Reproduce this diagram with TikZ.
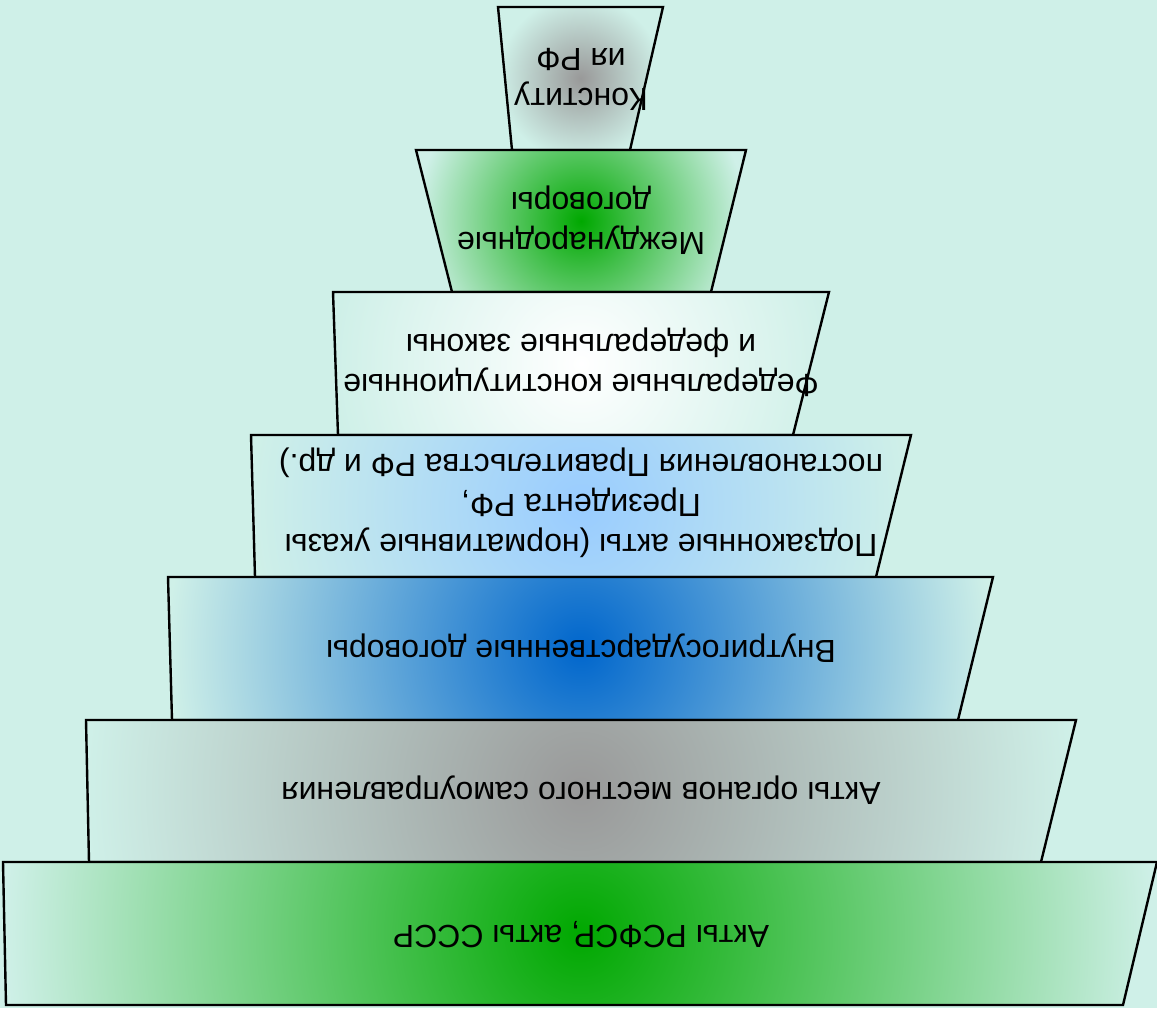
\documentclass[tikz,border=0pt]{standalone}
\usepackage{fontspec}
\setmainfont{Liberation Sans}
\usepackage{tikz}
\usetikzlibrary{positioning}
\definecolor{bgmint}{HTML}{CFF0E8}
\definecolor{midgray}{HTML}{999999}
\definecolor{leafgreen}{HTML}{00A800}
\definecolor{skyblue}{HTML}{99CCFF}
\definecolor{deepblue}{HTML}{0066CC}

\begin{document}
\begin{tikzpicture}[x=0.5pt, y=-0.5pt, line width=1.2pt]
\fill[bgmint] (0,0) rectangle (1157,1008);
\useasboundingbox (0,0) rectangle (1157,1008);
% levels: top left / top right / bottom left / bottom right / top y / bottom y / fill
\foreach \tl/\tr/\bl/\br/\yt/\yb/\inn in {
    498/663/512/630/7/150/midgray,
    416/746/452/711/150/292/leafgreen,
    333/829/338/793/292/435/white,
    251/911/255/876/435/577/skyblue,
    168/993/172/958/577/720/deepblue,
    86/1076/89/1041/720/862/midgray,
    3/1157/6/1123/862/1005/leafgreen}
  {\begin{scope}
    \clip (\tl,\yt) -- (\tr,\yt) -- (\br,\yb) -- (\bl,\yb) -- cycle;
    \shade[inner color=\inn, outer color=bgmint]
      ({(\tl+\tr)/2},{(\yt+\yb)/2}) circle ({(\tr-\tl)/2});
   \end{scope}
   \draw (\tl,\yt) -- (\tr,\yt) -- (\br,\yb) -- (\bl,\yb) -- cycle;}
   \begin{scope}[every node/.style={rotate=180, align=center, font=\fontsize{16}{20}\selectfont}]
\node (konst) at (581,79) {Конститу\\ия РФ};
\node (mezhd) at (581,220) {Международные\\договоры};
\node (fedzak) at (581,362) {Федеральные конституционные\\и федеральные законы};
\node (podzak) at (581,503) {Подзаконные акты (нормативные указы\\Президента РФ,\\постановления Правительства РФ и др.)};
\node (vnutr) at (581,648) {Внутригосударственные договоры};
\node (mestn) at (581,790) {Акты органов местного самоуправления};
\node (rsfsr) at (581,935) {Акты РСФСР, акты СССР};
  \end{scope}
\end{tikzpicture}
\end{document}
